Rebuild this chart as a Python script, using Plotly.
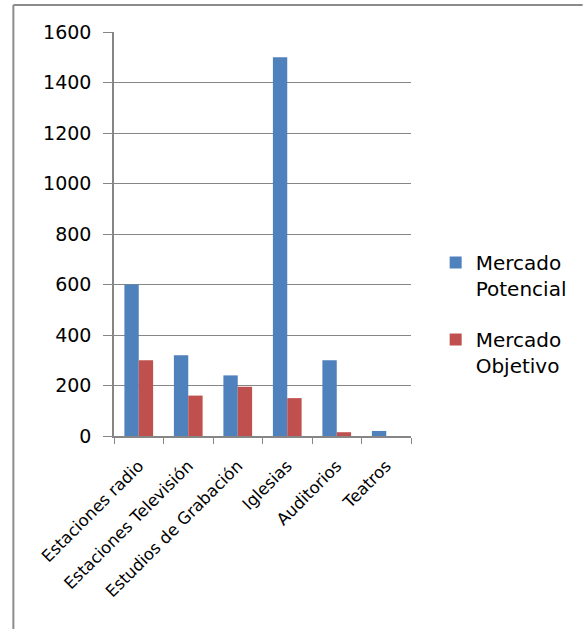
import plotly.graph_objects as go

categories = ["Estaciones radio", "Estaciones Televisión", "Estudios de Grabación",
              "Iglesias", "Auditorios", "Teatros"]
potencial = [600, 320, 240, 1500, 300, 20]
objetivo = [300, 160, 195, 150, 15, 0]
y_ticks = [0, 200, 400, 600, 800, 1000, 1200, 1400, 1600]

W, H = 584, 629
L, R, T, B = 114, 415, 32, 436
pw, ph = R - L, B - T

def px(x):
    return (x - L) / pw

def py(y):
    return (B - y) / ph

fig = go.Figure()
fig.add_trace(go.Bar(x=categories, y=potencial, name="Mercado<br>Potencial",
                     legendgroup="a",
                     marker=dict(color="#4F81BD", line=dict(width=0))))
fig.add_trace(go.Bar(x=categories, y=objetivo, name="Mercado<br>Objetivo",
                     legendgroup="b",
                     marker=dict(color="#C0504D", line=dict(width=0))))

font_family = "'DejaVu Sans', sans-serif"

fig.update_layout(
    width=W, height=H,
    margin=dict(l=L, r=W - R, t=T, b=H - B, pad=0),
    paper_bgcolor="white", plot_bgcolor="white",
    barmode="group", bargap=0.42, bargroupgap=0,
    font=dict(family=font_family, color="black"),
    showlegend=True,
    legend=dict(x=px(440), y=py(243), xanchor="left", yanchor="top",
                font=dict(size=20, family=font_family), valign="top",
                tracegroupgap=22, itemwidth=30, bgcolor="rgba(0,0,0,0)"),
    xaxis=dict(
        showgrid=False, showline=True, linecolor="#868686", linewidth=1.5,
        ticks="outside", tickson="boundaries", ticklen=6, tickcolor="#868686",
        tickangle=-45, tickfont=dict(size=16.5, family=font_family),
        ticklabelstandoff=12,
        range=[-0.5, 5.5],
    ),
    yaxis=dict(
        range=[0, 1600], tickvals=y_ticks, showgrid=True, gridcolor="#868686",
        gridwidth=1, showline=True, linecolor="#868686", linewidth=1.5,
        ticks="outside", ticklen=9, tickcolor="#868686",
        tickfont=dict(size=19, family=font_family), ticklabelstandoff=8,
        zeroline=False,
    ),
    shapes=[
        dict(type="line", xref="paper", yref="paper",
             x0=px(12), y0=py(5), x1=px(W + 5), y1=py(5),
             line=dict(color="#8C8C8C", width=2)),
        dict(type="line", xref="paper", yref="paper",
             x0=px(12), y0=py(5), x1=px(12), y1=py(H + 5),
             line=dict(color="#8C8C8C", width=2)),
    ],
)

fig.write_html("out.html")
